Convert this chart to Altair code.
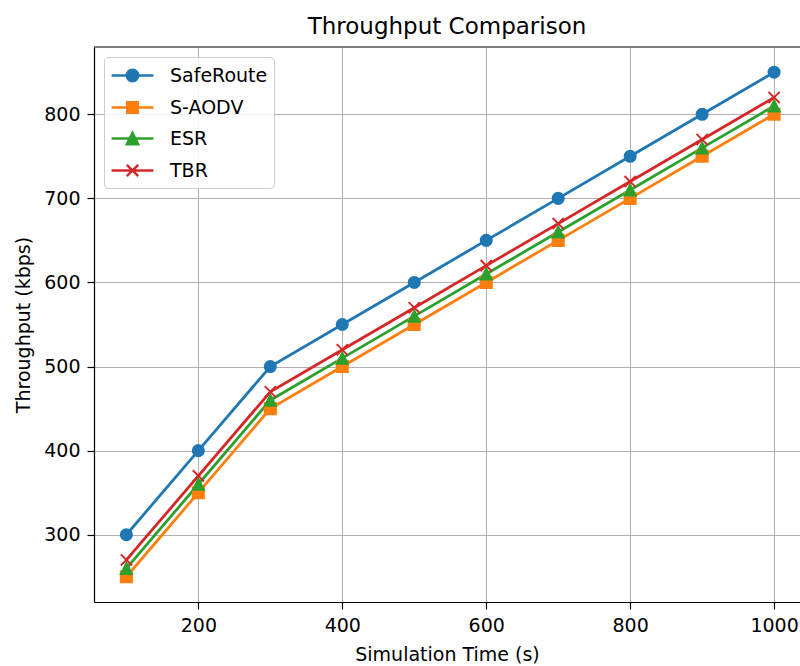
import altair as alt
import pandas as pd

# ---- data ----
times = [100, 200, 300, 400, 500, 600, 700, 800, 900, 1000]
saferoute = [300, 400, 500, 550, 600, 650, 700, 750, 800, 850]
s_aodv = [250, 350, 450, 500, 550, 600, 650, 700, 750, 800]
esr = [260, 360, 460, 510, 560, 610, 660, 710, 760, 810]
tbr = [270, 370, 470, 520, 570, 620, 670, 720, 770, 820]

series_names = ["SafeRoute", "S-AODV", "ESR", "TBR"]
series_values = [saferoute, s_aodv, esr, tbr]
colors = ["#1f77b4", "#ff7f0e", "#2ca02c", "#d62728"]

x_ticks = [200, 400, 600, 800, 1000]
y_ticks = [300, 400, 500, 600, 700, 800]

# marker shapes in the plot (matplotlib o, s, ^, x)
plot_shapes = ["circle", "square", "M0,-1L1,1L-1,1Z", "M-1,-1L1,1M-1,1L1,-1"]
# legend symbols: a line segment with the marker in its middle
legend_shapes = [
    "M-1.9,0L1.9,0M0.52,0A0.52,0.52,0,1,1,-0.52,0A0.52,0.52,0,1,1,0.52,0Z",
    "M-1.9,0L1.9,0M-0.48,-0.48L0.48,-0.48L0.48,0.48L-0.48,0.48Z",
    "M-1.9,0L1.9,0M0,-0.52L0.52,0.52L-0.52,0.52Z",
    "M-1.9,0L1.9,0M-0.52,-0.52L0.52,0.52M-0.52,0.52L0.52,-0.52",
]

rows = []
for name, vals in zip(series_names, series_values):
    for t, v in zip(times, vals):
        rows.append({"time": t, "throughput": v, "series": name})
df = pd.DataFrame(rows)

FONT = "DejaVu Sans"

xscale = alt.Scale(domain=[55, 1036], nice=False, zero=False)
yscale = alt.Scale(domain=[220, 880], nice=False, zero=False)
cscale = alt.Scale(domain=series_names, range=colors)

X = alt.X("time:Q", scale=xscale,
          axis=alt.Axis(values=x_ticks, format="d", title="Simulation Time (s)"))
Y = alt.Y("throughput:Q", scale=yscale,
          axis=alt.Axis(values=y_ticks, format="d", title="Throughput (kbps)"))

base = alt.Chart(df)

lines = base.mark_line(strokeWidth=2.8).encode(
    x=X, y=Y,
    stroke=alt.Stroke("series:N", scale=cscale, legend=None),
    detail="series:N",
    order=alt.Order("time:Q"),
)

points = base.mark_point(filled=True, opacity=1, size=125, strokeWidth=1.9).encode(
    x=X, y=Y,
    fill=alt.Fill("series:N", scale=cscale, legend=None),
    stroke=alt.Stroke("series:N", scale=cscale, legend=None),
    shape=alt.Shape("series:N", scale=alt.Scale(domain=series_names, range=plot_shapes), legend=None),
)

leg = alt.Legend(
    title=None, orient="top-left", offset=10,
    labelFontSize=19, labelFont=FONT, labelColor="black",
    symbolSize=484, symbolStrokeWidth=2.4, symbolOpacity=1, symbolOffset=10,
    labelOffset=25, padding=6, rowPadding=8,
    strokeColor="#cccccc", fillColor="rgba(255,255,255,0.85)", cornerRadius=4,
)

legend_layer = base.transform_filter("false").mark_point(
    filled=True, opacity=1, size=484, strokeWidth=2.4
).encode(
    x=X, y=Y,
    fill=alt.Fill("series:N", scale=alt.Scale(domain=series_names, range=colors), legend=leg),
    stroke=alt.Stroke("series:N", scale=alt.Scale(domain=series_names, range=colors), legend=leg),
    shape=alt.Shape("series:N", scale=alt.Scale(domain=series_names, range=legend_shapes), legend=leg),
)

top_border = alt.Chart(pd.DataFrame({"k": [0]})).mark_rule(
    color="black", strokeWidth=1.2
).encode(y=alt.value(0))

chart = alt.layer(lines, points, top_border, legend_layer).resolve_scale(
    shape="independent", fill="independent", stroke="independent"
).properties(
    width=706, height=555,
    title="Throughput Comparison",
    autosize=alt.AutoSizeParams(type="none"),
    padding={"left": 94, "top": 47, "right": 0, "bottom": 64},
    background="white",
).configure(font=FONT).configure_view(stroke=None).configure_axis(
    domainColor="black", domainWidth=1.2,
    tickColor="black", tickWidth=1.2, tickSize=7,
    labelFontSize=19, labelColor="black", labelFont=FONT, labelPadding=7,
    titleFontSize=19, titleFontWeight="normal", titleColor="black", titleFont=FONT,
    titlePadding=10,
    gridColor="#b0b0b0", gridWidth=1,
).configure_title(
    fontSize=23, fontWeight="normal", font=FONT, color="black", offset=7, anchor="middle"
)

chart.save("out.html", embed_options={"renderer": "svg", "actions": False})
